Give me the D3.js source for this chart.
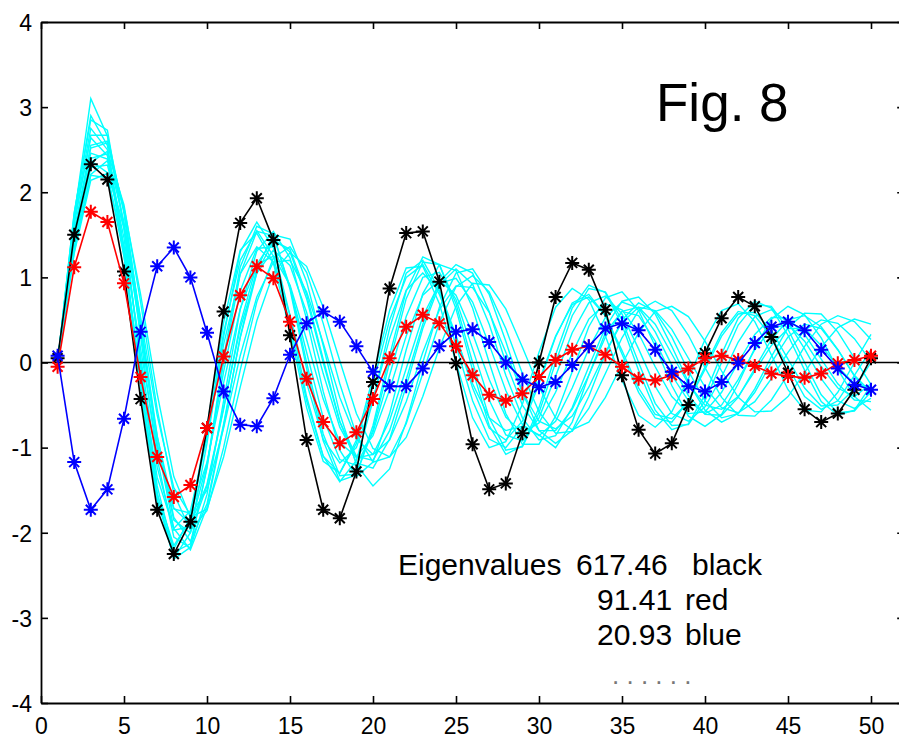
<!DOCTYPE html>
<html>
<head>
<meta charset="utf-8">
<script src="https://cdn.jsdelivr.net/npm/d3@7"></script>
<style>
  html, body { margin: 0; padding: 0; background: #ffffff; }
  svg { display: block; font-family: "Liberation Sans", Arial, sans-serif; }
</style>
</head>
<body>
<svg id="chart" width="899" height="742"></svg>
<script>
// ---------------- data ----------------
const xIndex = [1,2,3,4,5,6,7,8,9,10,11,12,13,14,15,16,17,18,19,20,21,22,23,24,25,
                26,27,28,29,30,31,32,33,34,35,36,37,38,39,40,41,42,43,44,45,46,47,48,49,50];

const xTicks = [0,5,10,15,20,25,30,35,40,45,50];
const yTicks = [-4,-3,-2,-1,0,1,2,3,4];

// eigenvector curves (with markers)
const blackSeries = [0.05, 1.50, 2.33, 2.15, 1.07, -0.43, -1.73, -2.25, -1.87, -0.77,
  0.60, 1.64, 1.93, 1.44, 0.32, -0.91, -1.73, -1.83, -1.28, -0.23,
  0.87, 1.52, 1.54, 0.95, -0.01, -0.96, -1.49, -1.42, -0.83, 0.00,
  0.77, 1.17, 1.09, 0.62, -0.15, -0.79, -1.07, -0.95, -0.50, 0.11,
  0.52, 0.77, 0.66, 0.30, -0.12, -0.55, -0.70, -0.60, -0.32, 0.05];

const redSeries = [-0.05, 1.12, 1.77, 1.65, 0.93, -0.17, -1.11, -1.58, -1.44, -0.77,
  0.07, 0.79, 1.13, 0.99, 0.48, -0.19, -0.70, -0.95, -0.82, -0.43,
  0.05, 0.42, 0.56, 0.46, 0.19, -0.15, -0.38, -0.45, -0.36, -0.17,
  0.03, 0.15, 0.19, 0.09, -0.05, -0.19, -0.21, -0.15, -0.07, 0.05,
  0.08, 0.03, -0.04, -0.13, -0.16, -0.18, -0.13, -0.01, 0.03, 0.08];

const blueSeries = [0.08, -1.17, -1.73, -1.49, -0.66, 0.36, 1.13, 1.35, 1.00, 0.35,
  -0.34, -0.73, -0.75, -0.42, 0.09, 0.46, 0.60, 0.48, 0.19, -0.11,
  -0.28, -0.28, -0.07, 0.19, 0.36, 0.39, 0.24, 0.00, -0.20, -0.29,
  -0.23, -0.03, 0.19, 0.40, 0.46, 0.38, 0.15, -0.11, -0.28, -0.34,
  -0.23, -0.01, 0.23, 0.42, 0.48, 0.38, 0.15, -0.07, -0.26, -0.32];

// individual data curves (cyan, no markers)
const cyan1 = [0, 1.66, 2.64, 2.43, 1.26, -0.32, -1.63, -2.19, -1.82, -0.76, 0.47, 1.32, 1.52, 1.17, 0.37, -0.53, -1.16, -1.30, -0.91, -0.17, 0.61, 1.11, 1.13, 0.69, 0, -0.65, -1.00, -0.93, -0.49, 0.12, 0.65, 0.87, 0.74, 0.31, -0.21, -0.62, -0.76, -0.58, -0.19, 0.27, 0.61, 0.69, 0.48, 0.09, -0.32, -0.56, -0.58, -0.35, 0, 0.33];
const cyan2 = [0, 1.48, 2.37, 2.23, 1.24, -0.14, -1.35, -1.95, -1.74, -0.88, 0.21, 1.04, 1.36, 1.18, 0.56, -0.24, -0.90, -1.18, -1.00, -0.43, 0.28, 0.85, 1.05, 0.84, 0.32, -0.30, -0.77, -0.91, -0.69, -0.22, 0.31, 0.68, 0.77, 0.55, 0.14, -0.30, -0.61, -0.66, -0.46, -0.08, 0.31, 0.57, 0.59, 0.38, 0.04, -0.30, -0.51, -0.50, -0.31, 0.00];
const cyan3 = [0, 1.76, 2.85, 2.73, 1.60, -0.04, -1.53, -2.31, -2.17, -1.22, 0.06, 1.12, 1.60, 1.51, 0.86, -0.07, -0.92, -1.39, -1.32, -0.74, 0.08, 0.84, 1.24, 1.15, 0.63, -0.09, -0.74, -1.08, -0.98, -0.53, 0.09, 0.64, 0.91, 0.82, 0.44, -0.09, -0.56, -0.79, -0.72, -0.38, 0.10, 0.52, 0.72, 0.64, 0.32, -0.09, -0.46, -0.62, -0.56, -0.27];
const cyan4 = [0, 1.52, 2.46, 2.39, 1.46, 0.07, -1.23, -1.97, -1.93, -1.19, -0.11, 0.84, 1.34, 1.36, 0.89, 0.12, -0.65, -1.14, -1.21, -0.82, -0.15, 0.54, 1.00, 1.06, 0.74, 0.16, -0.44, -0.85, -0.92, -0.65, -0.16, 0.35, 0.70, 0.78, 0.57, 0.16, -0.28, -0.60, -0.69, -0.52, -0.17, 0.24, 0.54, 0.62, 0.47, 0.16, -0.19, -0.45, -0.54, -0.42];
const cyan5 = [0, 1.35, 2.20, 2.17, 1.37, 0.16, -1.01, -1.72, -1.77, -1.17, -0.24, 0.63, 1.15, 1.25, 0.91, 0.27, -0.43, -0.94, -1.11, -0.86, -0.32, 0.31, 0.79, 0.97, 0.79, 0.34, -0.20, -0.64, -0.83, -0.71, -0.35, 0.11, 0.51, 0.69, 0.62, 0.34, -0.05, -0.40, -0.60, -0.58, -0.35, 0.00, 0.33, 0.53, 0.52, 0.33, 0.04, -0.25, -0.44, -0.46];
const cyan6 = [0, 1.62, 2.67, 2.67, 1.75, 0.30, -1.13, -2.05, -2.18, -1.55, -0.45, 0.62, 1.31, 1.54, 1.23, 0.51, -0.34, -1.03, -1.34, -1.17, -0.60, 0.15, 0.81, 1.15, 1.08, 0.64, 0.00, -0.60, -0.96, -0.96, -0.63, -0.11, 0.42, 0.76, 0.83, 0.61, 0.19, -0.27, -0.63, -0.75, -0.61, -0.25, 0.17, 0.51, 0.66, 0.56, 0.29, -0.08, -0.40, -0.56];
const cyan7 = [0, 1.39, 2.29, 2.32, 1.57, 0.36, -0.87, -1.71, -1.90, -1.43, -0.53, 0.40, 1.05, 1.32, 1.14, 0.59, -0.13, -0.76, -1.12, -1.08, -0.68, -0.07, 0.54, 0.93, 0.99, 0.71, 0.21, -0.33, -0.73, -0.86, -0.69, -0.30, 0.16, 0.53, 0.71, 0.64, 0.36, -0.03, -0.39, -0.61, -0.62, -0.41, -0.07, 0.27, 0.50, 0.55, 0.42, 0.15, -0.16, -0.39];
const cyan8 = [0, 1.51, 2.52, 2.58, 1.79, 0.49, -0.86, -1.82, -2.10, -1.66, -0.72, 0.29, 1.05, 1.43, 1.33, 0.80, 0.04, -0.69, -1.18, -1.24, -0.90, -0.28, 0.40, 0.91, 1.10, 0.92, 0.45, -0.15, -0.65, -0.91, -0.86, -0.53, -0.05, 0.41, 0.72, 0.77, 0.57, 0.19, -0.23, -0.56, -0.70, -0.60, -0.31, 0.07, 0.41, 0.58, 0.57, 0.36, 0.05, -0.26];
const cyan9 = [0, 1.28, 2.14, 2.22, 1.60, 0.53, -0.62, -1.47, -1.79, -1.50, -0.77, 0.08, 0.77, 1.18, 1.20, 0.83, 0.23, -0.41, -0.90, -1.08, -0.91, -0.46, 0.12, 0.62, 0.90, 0.88, 0.59, 0.12, -0.35, -0.69, -0.78, -0.63, -0.29, 0.12, 0.47, 0.65, 0.61, 0.39, 0.05, -0.29, -0.53, -0.59, -0.46, -0.19, 0.12, 0.38, 0.50, 0.46, 0.28, 0.01];
const cyan10 = [0, 1.39, 2.35, 2.48, 1.85, 0.71, -0.55, -1.54, -1.97, -1.74, -1.00, -0.09, 0.71, 1.23, 1.36, 1.06, 0.46, -0.25, -0.85, -1.17, -1.11, -0.72, -0.13, 0.47, 0.89, 1.02, 0.83, 0.40, -0.13, -0.58, -0.83, -0.81, -0.54, -0.13, 0.29, 0.61, 0.72, 0.61, 0.32, -0.06, -0.41, -0.62, -0.63, -0.44, -0.14, 0.19, 0.45, 0.55, 0.48, 0.27];
const cyan11 = [0, 1.30, 2.21, 2.37, 1.82, 0.80, -0.37, -1.34, -1.82, -1.72, -1.11, -0.29, 0.49, 1.05, 1.29, 1.13, 0.65, 0.02, -0.60, -1.01, -1.11, -0.88, -0.40, 0.17, 0.66, 0.93, 0.91, 0.63, 0.18, -0.29, -0.65, -0.79, -0.70, -0.41, -0.02, 0.35, 0.60, 0.66, 0.54, 0.25, -0.10, -0.41, -0.58, -0.57, -0.40, -0.12, 0.18, 0.41, 0.51, 0.45];
const cyan12 = [0, 1.71, 3.10, 2.66, 1.58, 0, -1.45, -2.23, -2.13, -1.24, 0, 1.04, 1.54, 1.49, 0.89, 0, -0.84, -1.33, -1.31, -0.79, 0, 0.75, 1.18, 1.15, 0.69, 0, -0.65, -1.03, -0.99, -0.59, 0, 0.55, 0.87, 0.83, 0.50, 0, -0.48, -0.74, -0.73, -0.45, 0, 0.44, 0.68, 0.66, 0.39, 0, -0.38, -0.59, -0.57, -0.34];
const cyan13 = [0, 1.55, 2.55, 2.60, 1.80, 0.45, -0.95, -1.95, -2.20, -1.70, -0.75, 0.30,
  1.10, 1.50, 1.45, 0.95, 0.20, -0.60, -1.20, -1.45, -1.25, -0.70, 0.00, 0.65,
  1.05, 1.10, 0.80, 0.25, -0.35, -0.80, -0.95, -0.80, -0.40, 0.10, 0.50, 0.70,
  0.60, 0.30, -0.10, -0.45, -0.65, -0.60, -0.35, 0.00, 0.30, 0.45, 0.40, 0.15, -0.15, -0.35];
const cyan14 = [0, 1.70, 2.75, 2.50, 1.30, -0.25, -1.55, -2.15, -1.85, -0.85, 0.35, 1.20,
  1.55, 1.25, 0.45, -0.45, -1.10, -1.30, -0.95, -0.25, 0.50, 1.00, 1.15, 0.80,
  0.30, -0.25, -0.65, -0.80, -0.75, -0.85, -1.00, -0.70, -0.15, 0.35, 0.60, 0.55,
  0.25, -0.15, -0.45, -0.60, -0.50, -0.20, 0.15, 0.40, 0.45, 0.25, -0.05, -0.30, -0.40, -0.25];
const cyan15 = [0, 1.40, 2.40, 2.45, 1.65, 0.40, -0.95, -1.85, -2.00, -1.45, -0.55, 0.45,
  1.15, 1.45, 1.30, 0.75, 0.00, -0.70, -1.10, -1.15, -0.80, -0.20, 0.45, 0.95,
  1.15, 1.05, 0.60, 0.00, -0.50, -0.80, -0.80, -0.55, -0.15, 0.30, 0.60, 0.65,
  0.45, 0.10, -0.25, -0.50, -0.55, -0.40, -0.10, 0.20, 0.40, 0.40, 0.20, -0.05, -0.25, -0.30];
const cyan16 = [0, 1.75, 2.90, 2.55, 1.35, -0.20, -1.60, -2.30, -2.00, -0.95, 0.30, 1.30,
  1.65, 1.35, 0.55, -0.40, -1.10, -1.40, -1.15, -0.45, 0.40, 1.05, 1.20, 0.85,
  0.20, -0.45, -0.90, -1.00, -0.75, -0.25, 0.30, 0.70, 0.80, 0.55, 0.10, -0.35,
  -0.65, -0.70, -0.45, -0.05, 0.35, 0.60, 0.55, 0.30, -0.05, -0.40, -0.55, -0.45, -0.15, 0.15];

const cyanCurves = [cyan1, cyan2, cyan3, cyan4, cyan5, cyan6, cyan7, cyan8,
                    cyan9, cyan10, cyan11, cyan12, cyan13, cyan14, cyan15, cyan16];

const figTitle = "Fig. 8";
const eigenLabel = "Eigenvalues";
const eigenValues = ["617.46", "91.41", "20.93"];
const eigenColors = ["black", "red", "blue"];

// ---------------- drawing ----------------
const svg = d3.select("#chart");
const W = 899, H = 742;
svg.append("rect").attr("width", W).attr("height", H).attr("fill", "#fff");

const x = d3.scaleLinear().domain([0, 52]).range([41, 904.2]);
const y = d3.scaleLinear().domain([-4, 4]).range([703, 22]);

const line = d3.line().x((d, i) => x(xIndex[i])).y(d => y(d));

const plot = svg.append("g");

// cyan data curves
plot.selectAll("path.cyan").data(cyanCurves).enter().append("path")
  .attr("class", "cyan")
  .attr("d", line)
  .attr("fill", "none")
  .attr("stroke", "#00ffff")
  .attr("stroke-width", 1.4)
  .attr("stroke-linejoin", "miter");

// zero line
plot.append("line")
  .attr("x1", x(0)).attr("x2", x(52))
  .attr("y1", y(0)).attr("y2", y(0))
  .attr("stroke", "#000").attr("stroke-width", 1.6);

// marker series
const starPath = "M-7,0H7M0,-7V7M-5,-5L5,5M-5,5L5,-5";
const markerSeries = [
  {vals: blackSeries, color: "#000000"},
  {vals: redSeries, color: "#ff0000"},
  {vals: blueSeries, color: "#0000ff"}
];
markerSeries.forEach(s => {
  const g = plot.append("g");
  g.append("path")
    .attr("d", line(s.vals))
    .attr("fill", "none")
    .attr("stroke", s.color)
    .attr("stroke-width", 1.6);
  g.selectAll("path.star").data(s.vals).enter().append("path")
    .attr("class", "star")
    .attr("transform", (d, i) => `translate(${x(xIndex[i])},${y(d)})`)
    .attr("d", starPath)
    .attr("stroke", s.color)
    .attr("stroke-width", 2)
    .attr("fill", "none");
});

// axes (MATLAB-style inward ticks, box)
const axisColor = "#000";
const fontSize = 23;
const fmt = d => String(d);
const gx = svg.append("g").attr("transform", `translate(0,${y(-4)})`)
  .call(d3.axisBottom(x).tickValues(xTicks).tickFormat(fmt).tickSizeInner(-7).tickSizeOuter(0).tickPadding(15));
const gxt = svg.append("g").attr("transform", `translate(0,${y(4)})`)
  .call(d3.axisTop(x).tickValues(xTicks).tickSizeInner(-7).tickSizeOuter(0).tickFormat(""));
const gy = svg.append("g").attr("transform", `translate(${x(0)},0)`)
  .call(d3.axisLeft(y).tickValues(yTicks).tickFormat(fmt).tickSizeInner(-7).tickSizeOuter(0).tickPadding(9));
const gyr = svg.append("g").attr("transform", `translate(${x(52)},0)`)
  .call(d3.axisRight(y).tickValues(yTicks).tickSizeInner(-7).tickSizeOuter(0).tickFormat(""));

[gx, gxt, gy, gyr].forEach(g => {
  g.select(".domain").attr("stroke", axisColor).attr("stroke-width", 1.8);
  g.selectAll(".tick line").attr("stroke", axisColor).attr("stroke-width", 1.6);
  g.selectAll(".tick text")
    .attr("fill", "#000")
    .style("font-family", '"Liberation Sans", Arial, sans-serif')
    .style("font-size", fontSize + "px");
});
gy.selectAll(".tick text").attr("dy", "0.36em");

// annotations
svg.append("text").attr("x", 656).attr("y", 121)
  .style("font-size", "53px").attr("fill", "#000").text(figTitle);

const ann = svg.append("g").style("font-size", "30px").attr("fill", "#000");
ann.append("text").attr("x", 398).attr("y", 575).text(eigenLabel);
ann.append("text").attr("x", 576).attr("y", 575).text(eigenValues[0]);
ann.append("text").attr("x", 692).attr("y", 575).text(eigenColors[0]);
ann.append("text").attr("x", 597).attr("y", 610).text(eigenValues[1]);
ann.append("text").attr("x", 685).attr("y", 610).text(eigenColors[1]);
ann.append("text").attr("x", 597).attr("y", 645).text(eigenValues[2]);
ann.append("text").attr("x", 685).attr("y", 645).text(eigenColors[2]);
ann.append("text").attr("x", 612).attr("y", 684).attr("fill", "#777")
  .style("font-size", "26px").style("white-space", "pre").text(". . . . . .");
</script>
</body>
</html>
